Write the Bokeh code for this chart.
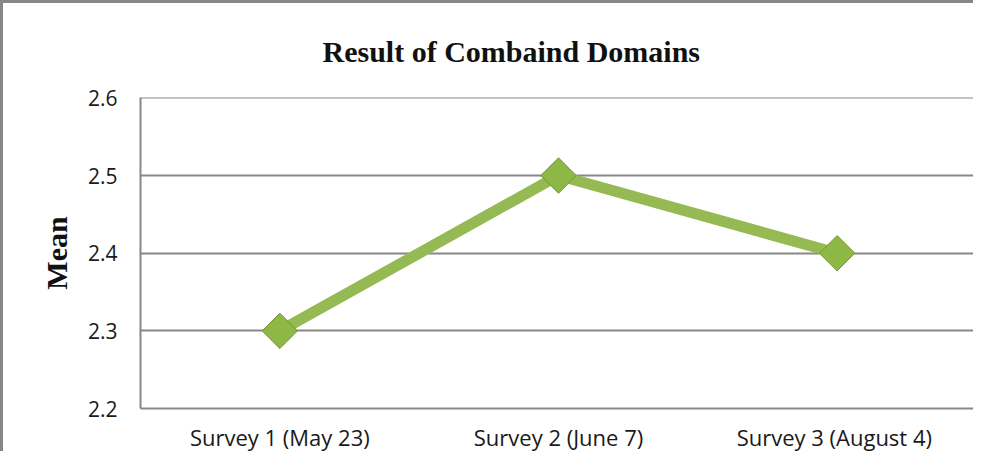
import math
from bokeh.plotting import figure
from bokeh.models import Range1d, FactorRange
from bokeh.embed import file_html
from bokeh.resources import INLINE

# ---- data ----
surveys = ["Survey 1 (May 23)", "Survey 2 (June 7)", "Survey 3 (August  4)"]
means = [2.3, 2.5, 2.4]
y_ticks = [2.2, 2.3, 2.4, 2.5, 2.6]
title_text = "Result of Combaind Domains"
y_label = "Mean"

GRAY = "#878787"
GREEN = "#95BA53"

p = figure(
    width=973, height=451,
    x_range=FactorRange(*surveys),
    y_range=Range1d(2.2, 2.6005),
    output_backend="svg", toolbar_location=None,
    min_border_left=137, min_border_right=0,
    min_border_top=94, min_border_bottom=42,
)
p.styles = {"border-left": "3px solid #878787", "border-top": "3px solid #878787"}
p.outline_line_color = None
p.background_fill_color = "white"
p.border_fill_color = "white"

# title
p.title.text = title_text
p.title.text_font = "Liberation Serif"
p.title.text_font_style = "bold"
p.title.text_font_size = "30px"
p.title.text_color = "#111111"
p.title.align = "left"
p.title.offset = 182
p.title.vertical_align = "top"
p.title.standoff = 55

# axes
p.yaxis.ticker = y_ticks
p.yaxis.axis_label = y_label
p.yaxis.axis_label_text_font = "Liberation Serif"
p.yaxis.axis_label_text_font_style = "bold"
p.yaxis.axis_label_text_font_size = "30px"
p.yaxis.axis_label_text_color = "#111111"
p.yaxis.axis_label_standoff = 12
p.yaxis.major_label_text_font = "Open Sans"
p.yaxis.major_label_text_font_size = "21px"
p.yaxis.major_label_text_color = "#1a1a1a"
p.yaxis.major_label_standoff = 23
p.yaxis.formatter.use_scientific = False

p.xaxis.major_label_text_font = "Open Sans"
p.xaxis.major_label_text_font_size = "22px"
p.xaxis.major_label_text_color = "#1a1a1a"
p.xaxis.major_label_standoff = 13

for ax in (p.xaxis, p.yaxis):
    ax.axis_line_color = GRAY
    ax.axis_line_width = 2
    ax.major_tick_line_color = None
    ax.minor_tick_line_color = None
    ax.major_tick_in = 0
    ax.major_tick_out = 0

p.xgrid.grid_line_color = None
p.ygrid.grid_line_color = GRAY
p.ygrid.grid_line_width = 2

# line and markers
p.line(surveys, means, line_color=GREEN, line_width=11, line_join="round")
p.scatter(surveys, means, marker="square", size=25, angle=math.pi / 4,
          fill_color="#8DB846", line_color="#6F9433", line_width=1)

open("out.html", "w").write(file_html(p, INLINE))
